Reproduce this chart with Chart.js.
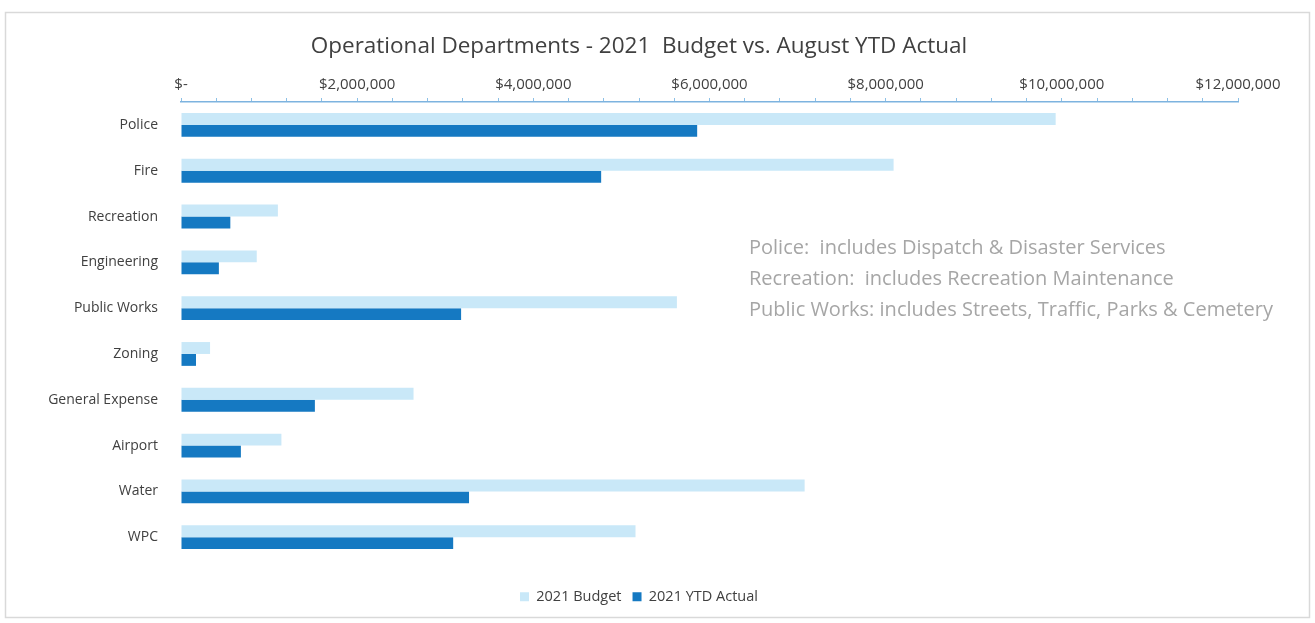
<!DOCTYPE html>
<html>
<head>
<meta charset="utf-8">
<script src="https://cdn.jsdelivr.net/npm/chart.js@4/dist/chart.umd.min.js"></script>
<style>
  html, body { margin: 0; padding: 0; background: #fff; }
  #wrap { width: 1315px; height: 623px; position: relative; }
</style>
</head>
<body>
<div id="wrap"><canvas id="myChart" width="1315" height="623"></canvas></div>
<script>
var departments = ['Police', 'Fire', 'Recreation', 'Engineering', 'Public Works', 'Zoning', 'General Expense', 'Airport', 'Water', 'WPC'];
var budget2021 = [9930000, 8090000, 1100000, 860000, 5630000, 330000, 2640000, 1140000, 7080000, 5160000];
var ytdActual2021 = [5860000, 4770000, 560000, 430000, 3180000, 170000, 1520000, 680000, 3270000, 3090000];
var axisMax = 12000000;
var labelStep = 2000000;
var notes = [
    'Police:  includes Dispatch & Disaster Services',
    'Recreation:  includes Recreation Maintenance',
    'Public Works: includes Streets, Traffic, Parks & Cemetery'
];

var fontName = "'Open Sans', 'Noto Sans', sans-serif";

// frame round the chart and the notes text
var extras = {
    id: 'extras',
    beforeDraw: function (chart) {
        var c = chart.ctx;
        c.save();
        c.fillStyle = '#ffffff';
        c.fillRect(0, 0, chart.width, chart.height);
        c.strokeStyle = '#d9d9d9';
        c.lineWidth = 1.5;
        c.strokeRect(5.5, 12.5, 1304, 605);
        c.restore();
    },
    afterDraw: function (chart) {
        var c = chart.ctx;
        c.save();
        c.fillStyle = '#a6a6a6';
        c.font = '20px ' + fontName;
        c.textBaseline = 'middle';
        for (var i = 0; i < notes.length; i++) {
            c.fillText(notes[i], 749, 248 + i * 31);
        }
        c.restore();
    }
};

var ctx = document.getElementById('myChart').getContext('2d');
var myChart = new Chart(ctx, {
    type: 'bar',
    data: {
        labels: departments,
        datasets: [{
            label: '2021 Budget',
            data: budget2021,
            backgroundColor: '#c9e8f8',
            borderWidth: 0
        }, {
            label: '2021 YTD Actual',
            data: ytdActual2021,
            backgroundColor: '#1579c2',
            borderWidth: 0
        }]
    },
    options: {
        indexAxis: 'y',
        responsive: false,
        animation: false,
        layout: {
            padding: { left: 40, right: 77, top: 33, bottom: 9 }
        },
        datasets: {
            bar: { categoryPercentage: 0.52, barPercentage: 1.0 }
        },
        plugins: {
            title: {
                display: true,
                text: 'Operational Departments - 2021  Budget vs. August YTD Actual',
                color: '#404040',
                font: { family: fontName, size: 22.5, weight: 'normal' },
                padding: { top: 0, bottom: 12 }
            },
            legend: {
                position: 'bottom',
                title: {
                    display: true,
                    text: ' ',
                    font: { size: 2 },
                    padding: { top: 16, bottom: 0 }
                },
                labels: {
                    boxWidth: 9,
                    boxHeight: 9,
                    color: '#404040',
                    font: { family: fontName, size: 14.5 },
                    padding: 11
                }
            },
            tooltip: { enabled: false }
        },
        scales: {
            x: {
                position: 'top',
                min: 0,
                max: axisMax,
                grid: {
                    drawOnChartArea: false,
                    drawTicks: true,
                    tickLength: 4,
                    color: '#8cc0e6'
                },
                border: { color: '#7db3df', width: 1.5 },
                ticks: {
                    stepSize: 400000,
                    autoSkip: false,
                    maxRotation: 0,
                    padding: 4,
                    color: '#404040',
                    font: { family: fontName, size: 15 },
                    callback: function (value) {
                        if (value === 0) return '$-';
                        if (value % labelStep !== 0) return '';
                        return '$' + value.toLocaleString('en-US');
                    }
                }
            },
            y: {
                grid: { display: false },
                border: { display: false },
                ticks: {
                    padding: 15,
                    color: '#404040',
                    font: { family: fontName, size: 14 }
                },
                afterFit: function (scale) {
                    scale.width = 141;
                }
            }
        }
    },
    plugins: [extras]
});
</script>
</body>
</html>
